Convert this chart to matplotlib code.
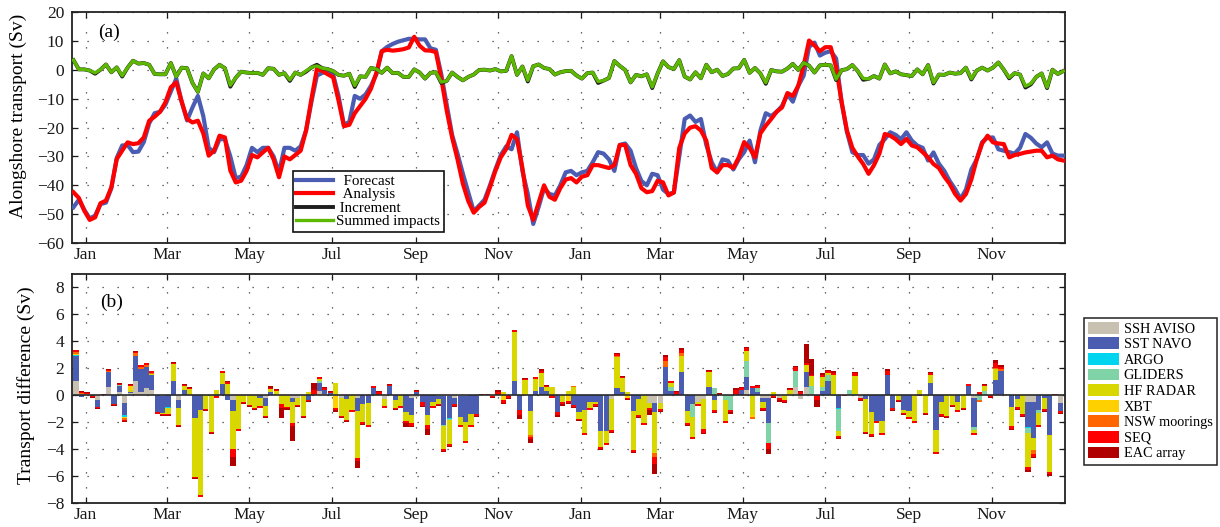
import numpy as np
import matplotlib
matplotlib.use("Agg")
import matplotlib.pyplot as plt
import matplotlib.dates as mdates
from matplotlib.patches import Patch
from datetime import datetime

plt.rcParams['font.family'] = ['Liberation Serif', 'DejaVu Serif']

# alongshore transport (Sv), one value per 4-day window starting 23 Dec 2011
analysis = [
    -42.4, -44.4, -48.8, -52.0, -51.1, -46.2, -45.3, -40.7, -30.9, -28.0,
    -25.1, -25.7, -25.4, -23.4, -17.6, -16.2, -14.5, -11.2, -6.0, -4.3,
    -11.0, -17.0, -18.2, -17.6, -22.0, -29.7, -28.0, -22.8, -23.4, -34.9,
    -39.0, -38.4, -35.0, -29.5, -30.3, -28.6, -27.0, -31.0, -37.2, -30.0,
    -31.0, -29.5, -28.0, -21.0, -10.0, 0.3, -0.3, -1.5, -2.5, -10.6,
    -19.5, -19.0, -15.0, -12.5, -10.0, -6.5, -1.0, 6.5, 7.0, 6.7,
    6.9, 7.2, 7.8, 11.5, 8.4, 6.8, 6.7, 6.2, -3.0, -14.0,
    -23.4, -31.0, -39.5, -45.5, -49.5, -47.5, -46.0, -40.7, -35.0, -30.3,
    -27.4, -22.5, -24.0, -34.0, -47.0, -52.0, -46.0, -40.0, -44.0, -45.0,
    -41.0, -38.0, -37.5, -39.0, -37.0, -36.5, -33.0, -33.0, -33.5, -34.0,
    -33.0, -26.0, -26.0, -33.0, -36.0, -41.0, -42.4, -42.0, -38.4, -39.0,
    -43.5, -42.5, -27.0, -22.0, -20.0, -19.5, -21.0, -24.5, -34.0, -35.5,
    -33.0, -33.0, -34.0, -30.3, -25.0, -27.0, -30.3, -22.0, -19.3, -17.0,
    -14.5, -13.0, -8.0, -9.0, -5.5, 1.5, 10.2, 8.5, 6.5, 7.9,
    7.9, 0.9, -11.0, -21.0, -27.0, -30.0, -32.6, -36.0, -33.0, -29.0,
    -22.2, -22.8, -24.0, -25.7, -23.9, -26.2, -26.8, -28.5, -30.3, -32.6,
    -34.0, -37.0, -39.5, -43.0, -45.3, -43.0, -38.0, -31.0, -25.5, -22.8,
    -25.1, -25.5, -25.7, -30.3, -29.5, -29.1, -28.6, -28.3, -28.0, -28.0,
    -30.3, -29.7, -31.0, -31.4,
]
forecast = [
    -47.6, -45.0, -48.5, -51.5, -50.5, -46.5, -46.0, -41.0, -30.5, -26.2,
    -26.0, -28.5, -28.3, -25.0, -18.5, -15.0, -14.5, -12.0, -7.5, -3.0,
    -11.0, -17.5, -13.0, -9.0, -16.0, -27.0, -28.5, -24.0, -24.0, -30.0,
    -37.5, -37.0, -33.0, -27.0, -28.5, -27.0, -27.0, -30.0, -35.5, -27.0,
    -27.0, -28.0, -26.5, -21.0, -11.0, -2.0, -1.0, -0.8, -1.5, -9.0,
    -19.0, -18.0, -9.0, -10.0, -8.5, -5.5, -1.5, 6.5, 8.0, 9.0,
    9.8, 10.3, 10.8, 10.8, 10.6, 10.6, 7.5, 7.0, -1.5, -12.0,
    -22.5, -29.0, -36.0, -42.5, -49.0, -47.0, -45.0, -40.0, -34.5, -29.5,
    -26.5, -27.5, -21.6, -35.0, -43.0, -53.4, -47.5, -41.0, -43.0, -43.5,
    -40.0, -35.5, -35.0, -36.5, -35.5, -35.0, -32.0, -28.5, -29.0, -31.0,
    -35.0, -26.0, -25.5, -28.0, -34.0, -38.5, -40.0, -36.0, -36.5, -41.5,
    -43.0, -42.5, -30.0, -17.0, -15.8, -18.0, -17.0, -26.0, -32.0, -35.5,
    -31.0, -31.5, -34.5, -31.0, -28.5, -24.5, -32.0, -21.0, -15.0, -16.0,
    -14.5, -12.5, -8.5, -11.0, -5.5, -2.0, 8.0, 9.5, 5.0, 6.0,
    6.5, 4.0, -11.0, -21.5, -28.5, -29.5, -29.5, -32.5, -31.0, -26.0,
    -24.0, -21.6, -22.5, -24.0, -21.6, -24.5, -26.2, -27.0, -31.4, -28.6,
    -32.5, -35.0, -38.5, -41.3, -44.7, -41.5, -34.5, -31.0, -25.0, -23.5,
    -23.4, -27.5, -28.0, -28.5, -29.0, -27.0, -22.2, -23.5, -25.5, -26.8,
    -25.1, -29.0, -29.7, -29.7,
]
increment = [
    3.4, 0.2, 0.2, -0.2, -1.3, 0.1, 1.9, -0.8, 0.9, -2.3,
    0.8, 3.2, 2.2, 2.4, 1.8, -1.4, -1.5, -1.5, 2.4, -2.3,
    0.8, 0.6, -4.5, -7.6, -1.2, -2.9, 0.2, 1.8, 0.6, -5.8,
    -2.7, -0.6, -0.9, -1.1, -1.0, -1.7, 0.6, 0.4, -1.7, -1.1,
    -3.8, -0.9, -1.7, -0.6, 0.9, 1.8, 0.6, 0.3, -0.4, -1.7,
    -2.0, -1.3, -5.9, -2.2, -2.4, 0.7, 0.3, -1.0, 0.8, -1.1,
    -1.0, -2.4, -2.4, 0.2, -0.9, -3.0, -1.0, -0.8, -4.5, -3.8,
    -0.9, -2.4, -3.6, -2.4, -1.6, 0.0, 0.1, -0.2, 0.3, -0.5,
    -0.3, 4.8, -1.7, 1.2, -4.0, 1.3, 1.9, 0.7, 0.3, -1.6,
    -0.8, -0.4, -0.3, -1.9, -3.0, -1.1, -0.9, -4.5, -3.7, -2.8,
    3.1, 1.4, 0.0, -4.3, -1.7, -2.2, -1.5, -6.3, -1.2, 3.0,
    1.0, 0.3, 3.4, -2.3, -3.3, -0.8, -2.9, 1.8, -0.8, 0.1,
    -2.1, -1.4, 0.5, 0.6, 3.5, -1.0, 0.7, -1.2, -4.8, 0.0,
    -0.5, -0.6, 0.5, 2.1, 0.0, 2.5, 1.5, -0.9, 1.6, 1.8,
    1.6, -3.5, -0.1, 0.3, 1.7, -0.4, -3.4, -3.1, -2.1, -3.0,
    1.9, -1.2, -0.5, -1.5, -1.8, -2.1, 0.2, -1.5, 1.7, -4.7,
    -1.6, -1.7, -0.9, -1.3, -1.1, 0.8, -3.3, -0.2, 0.8, -0.2,
    0.8, 2.6, 0.1, -2.9, -1.1, -1.6, -6.1, -5.0, -2.4, -1.2,
    -6.3, 0.1, -1.4, -0.4,
]
summed = [
    3.4, 0.2, 0.2, -0.2, -1.0, 0.1, 1.9, -0.8, 0.9, -2.0,
    0.8, 3.2, 2.2, 2.4, 1.8, -1.4, -1.5, -1.5, 2.4, -2.3,
    0.8, 0.6, -4.5, -7.6, -1.2, -2.9, 0.2, 1.8, 0.6, -5.3,
    -2.7, -0.6, -0.9, -1.1, -1.0, -1.7, 0.6, 0.4, -1.7, -1.1,
    -3.4, -0.9, -1.7, -0.3, 0.9, 1.4, 0.6, 0.3, -0.4, -1.7,
    -2.0, -1.3, -5.4, -2.2, -2.4, 0.7, 0.3, -1.0, 0.8, -1.1,
    -1.0, -2.4, -2.4, 0.2, -0.9, -3.0, -1.0, -0.8, -4.2, -3.8,
    -0.9, -2.4, -3.6, -2.4, -1.6, 0.0, 0.1, -0.2, 0.3, -0.5,
    -0.3, 4.8, -1.7, 1.2, -3.6, 1.3, 1.9, 0.7, 0.3, -1.6,
    -0.8, -0.4, -0.3, -1.9, -3.0, -1.1, -0.9, -4.0, -3.7, -2.8,
    3.1, 1.4, 0.0, -4.3, -1.7, -2.2, -1.5, -5.9, -1.2, 3.0,
    1.0, 0.3, 3.4, -2.3, -3.3, -0.8, -2.9, 1.8, -0.8, 0.1,
    -2.1, -1.4, 0.5, 0.6, 3.5, -1.0, 0.7, -1.2, -4.4, 0.0,
    -0.5, -0.6, 0.5, 2.1, 0.0, 2.5, 1.5, -0.9, 1.6, 1.8,
    1.6, -3.2, -0.1, 0.3, 1.7, -0.4, -2.9, -3.1, -2.1, -3.0,
    1.9, -1.2, -0.5, -1.5, -1.8, -2.1, 0.2, -1.5, 1.7, -4.4,
    -1.6, -1.7, -0.9, -1.3, -1.1, 0.8, -3.0, -0.2, 0.8, -0.2,
    0.8, 2.6, 0.1, -2.6, -1.1, -1.6, -5.6, -4.7, -2.4, -1.2,
    -6.0, 0.1, -1.4, -0.4,
]

# transport difference (Sv) attributed to each observation platform
ssh_aviso = [
    1.0, 0.1, 0.05, 0, -0.4, 0, 0.6, 0, 0.2, -0.6,
    0.15, 1.0, 0.25, 0.5, 0.4, 0, -0.1, 0, 0, -0.4,
    0, 0, 0, 0, 0, -0.1, 0, 0, 0, -0.4,
    0, -0.1, 0, -0.1, 0, -0.2, 0, 0, 0, -0.1,
    -0.2, -0.2, -0.1, 0, 0, 0.3, 0.1, 0, 0, -0.2,
    0, 0, -0.2, 0, 0, 0, 0, -0.3, 0, 0,
    0, 0, -0.2, -0.15, 0, 0, 0, -0.1, -0.1, -0.1,
    -0.2, -0.1, -0.1, 0, 0, 0, 0, -0.1, 0, 0,
    0, 0, 0, 0, 0, 0, 0, 0, 0, 0,
    0, 0, 0, 0, 0, 0, 0, 0, 0, -0.3,
    0, 0, 0, 0, 0, -0.1, -0.6, -0.6, -0.6, 0,
    0, 0, 0, 0, 0, -0.5, -0.3, 0, 0, 0,
    0, 0, 0, 0, 0.35, 0, 0, -0.2, -0.25, 0,
    -0.2, 0, 0, 0.6, -0.3, 0.6, 0.1, 0, 0, 0,
    0.1, 0, 0, 0, 0, -0.25, 0, 0, 0, 0,
    0, 0, 0, 0, 0, 0, 0, 0, 0, 0,
    0, 0, 0, 0, 0, 0, -0.25, 0, 0, 0,
    0, 0, 0.1, 0, 0, 0, -0.5, -0.5, 0, 0,
    0, 0, -0.6, 0,
]
sst_navo = [
    1.9, -0.15, 0, -0.05, -0.5, 0, 1.1, -0.65, 0.5, -0.9,
    0.05, 1.9, 1.7, 1.6, 1.1, -1.3, -1.25, -0.9, 1.0, -0.6,
    0.4, 0, -1.7, -1.1, 0, 0, -0.1, 0.8, -0.4, -0.8,
    0, 0, 0, 0, -0.2, -0.6, 0.2, 0, 0, 0,
    -0.3, 0, 0, -0.35, 0, 0.6, 0.25, 0.15, 0, 0,
    -0.3, 0, -1.0, -0.7, -0.6, 0.5, 0, 0, 0.65, -0.4,
    0, -1.3, -1.3, 0.2, -0.55, -1.5, -0.5, -0.2, -2.1, -1.6,
    -0.5, -1.5, -1.9, -1.4, -1.4, 0, 0, 0, 0, 0,
    0, 1.0, -1.1, 0, -1.2, 0.3, 0.6, 0.3, 0, -1.3,
    0, 0, -0.75, -1.3, -1.1, -0.5, -0.5, -2.7, -2.7, 0,
    0.5, 0.2, 0, -1.2, -0.3, 0, 0, -0.7, 0, 2.1,
    0.3, 0, 1.7, -1.2, -0.7, 0, 0, 0.6, -0.4, 0,
    0, 0, 0, 0.4, 1.0, 0.5, 0.25, -0.3, -1.85, 0,
    0, 0, 0, 0, 0, 1.1, 0, 0, 0.3, 1.0,
    0, -1.0, 0, 0, 0, 0, -0.3, -1.3, -1.9, -1.9,
    1.5, -1.0, 0, -1.1, -1.2, 0, 0, 0, 0.9, -2.6,
    -0.5, 0, 0, -0.5, 0, 0.7, -2.1, 0, 0, 0,
    1.1, 1.8, 0, -0.9, -0.3, 0, -1.9, -2.7, -1.1, -0.25,
    -3.0, 0, -0.6, 0,
]
argo = [
    0.1, 0, 0, 0, 0, 0, 0, 0, 0, -0.1,
    0, 0, 0, 0, 0, 0, 0, -0.05, 0, 0,
    0, 0, 0, 0, 0, 0, 0, 0, 0, 0,
    0, 0, 0, 0, 0, 0, 0, 0, 0, 0,
    0, 0, 0, 0, 0, 0, 0, 0, 0, 0,
    0, 0, 0, 0, 0, 0, 0, 0, 0, 0,
    0, 0, 0, 0, 0, 0, 0, 0, 0, -0.05,
    0, 0, 0, 0, 0, 0, 0, 0, 0, 0,
    0, 0, 0, 0, 0, 0, 0, 0, 0, 0,
    0, 0, 0, 0, 0, 0, 0, 0, 0, 0,
    0, 0, 0, 0, 0, 0, 0, 0, 0, 0,
    0, 0, 0, 0, 0, 0, 0, 0, 0, 0,
    0, 0, 0, 0, 0, 0, 0, 0, 0, 0,
    0, 0, 0, 0, 0, 0, 0, 0, 0, 0,
    0, -0.05, 0, 0, 0, 0, 0, 0, 0, 0,
    0, 0, 0, 0, 0, 0, 0, 0, 0, 0,
    0, 0, 0, 0, 0, 0, 0, 0, 0, 0,
    0, 0, 0, 0, 0, 0, -0.05, 0, 0, 0,
    0, 0, 0, 0,
]
gliders = [
    0, 0, 0, 0, 0, 0, 0, 0, 0.05, 0,
    0, 0, 0, 0, 0, 0, 0, -0.05, 0, 0,
    0, 0, 0, 0, 0, 0, 0, 0, 0, 0,
    0, 0, 0, 0, 0, 0, 0, 0, 0, 0,
    0, 0, 0, 0, 0, 0.1, 0, 0, -0.1, 0,
    0, 0, 0, 0, 0, 0, 0, 0, 0, 0,
    0, 0, 0, 0, 0, 0, 0, 0, -0.1, -0.1,
    0, 0, 0, 0, 0, 0, 0, 0, 0, 0,
    0, 0, 0, 0, 0, 0, 0, 0, 0, 0,
    0, 0, 0, 0, 0, 0, 0, 0, 0, 0,
    0, 0, 0, 0, 0, 0, 0, 0, 0, 0,
    0.3, 0, 0, 0, -0.9, 0, 0, 0, 0.5, 0,
    -0.4, -1.1, 0, 0, 1.2, 0, 0.3, 0, -1.5, 0,
    0, 0, 0, 1.2, 0, 0, 0.6, 0, 0.3, 0.5,
    -0.1, -1.6, 0, 0.35, 0.1, 0, 0, 0, 0, 0,
    0, 0, 0, 0, 0, 0, 0.05, 0, 0, 0,
    0, 0, 0, 0, 0, 0, -0.25, -0.35, 0.3, 0,
    0, 0, 0, 0, 0, 0, -0.4, 0, -0.25, 0,
    0, 0, 0, 0,
]
hf_radar = [
    0, 0, 0, 0, 0, 0, 0, 0, 0, 0,
    0.2, 0, 0, 0, 0.05, 0, -0.05, -0.4, 1.3, -1.2,
    0.25, 0.45, -4.4, -6.35, -1.05, -2.65, 0.4, 0.85, 0.85, -2.8,
    -2.55, -0.4, -0.75, -0.85, -0.65, -0.75, 0.25, 0.3, -0.7, -0.8,
    -1.6, -0.55, -1.45, 0.2, 0, 0.15, 0, 0, 0.9, -1.35,
    -1.55, -1.15, -3.5, -1.3, -1.6, 0, 0, -0.5, 0, -0.55,
    -0.85, -0.6, -0.6, 0, 0, -0.7, -0.35, -0.35, -1.7, -1.8,
    0, -0.6, -1.45, -0.85, 0, 0, 0, 0, 0, 0.2,
    0, 3.7, 0, 1.1, -1.8, 0.9, 1.0, 0.3, 0.6, 0,
    -0.55, 0.3, 0.6, -0.45, -1.75, -0.5, -0.2, -1.15, -0.85, -2.3,
    2.3, 1.05, 0.25, -2.85, -1.2, -1.95, -0.4, -3.0, -0.45, 0,
    0.3, 0, 1.2, -0.85, -1.5, -0.2, -2.25, 1.1, -0.75, 0,
    -1.5, 0, 0, 0, 0.7, -1.5, 0, -0.5, 0, 0.2,
    0, -0.35, 0.35, 0, 0, 0.5, 0.7, 0, 0.7, 0.1,
    1.4, -0.4, 0, 0, 1.3, 0, -2.45, -1.6, 0, -0.9,
    0, 0, -0.35, -0.25, -0.45, -1.95, 0.3, -1.35, 0.6, -1.6,
    -0.95, -1.55, -0.75, -0.65, -0.95, 0, -0.25, 0, 0.35, 0,
    0.8, 0, 0, -1.4, -0.6, -1.45, -2.5, -0.9, -0.9, -0.8,
    -2.75, 0, 0, 0,
]
xbt = [
    0.05, 0, 0, 0, 0, 0, 0, 0, 0, -0.1,
    0.25, 0, 0, 0, 0, 0, 0, 0, 0, 0,
    0, 0, 0, 0, 0, 0, 0, 0, 0, 0,
    0, 0, 0, 0, 0, 0, 0, 0, 0, 0,
    0, 0, 0, 0, 0, 0, 0, 0, -0.9, 0,
    0, 0, 0, 0, 0, 0, 0, 0, 0, 0,
    0, 0, 0, 0, 0, 0, 0, 0, 0, 0,
    0, 0, 0, 0, 0, 0, 0, 0, 0, -0.35,
    0, 0, 0, 0, 0, 0, 0, 0, 0, 0,
    0, -0.45, 0, 0, 0, 0, 0, 0, 0, 0,
    0, 0, -0.2, 0, 0, 0, 0, 0, 0, 0,
    0, 0, 0, 0, 0, 0, 0, 0, 0, 0,
    0, 0, 0, 0, 0, -0.1, 0, 0, 0, 0,
    0, 0, 0, 0, 0, 0, 0, 0, 0, 0,
    0, 0, 0, 0, 0, 0, 0, 0, 0, 0,
    0, 0, 0, 0, 0, 0, 0, 0, 0, 0,
    0, 0, 0, 0, 0, 0, 0, 0, 0, 0,
    0, 0, 0, 0, 0, 0, 0, 0, 0, 0,
    0, 0, 0, 0,
]
nsw_moorings = [
    0.15, 0.05, 0, 0, 0, 0, 0.05, 0, 0, -0.15,
    0, 0.2, 0.15, 0.15, 0.1, 0, 0, 0, 0, 0,
    0, 0, 0, 0, 0, 0, 0, 0, 0, 0,
    0, 0, 0, 0, 0, 0, 0, 0, 0, 0,
    0, 0, 0, 0, 0, 0, 0, 0, 0, 0,
    0, 0, 0, 0, 0, 0, 0, 0, 0, 0,
    0, 0, 0, 0, 0, 0, 0, 0, 0, 0,
    0, 0, 0, 0, 0, 0, 0, 0, 0, 0,
    0, 0, 0, 0, -0.1, 0, 0, 0, 0, 0,
    0, 0, 0.1, 0, 0, 0, 0, 0, 0, 0,
    0.1, 0, 0, 0, 0, 0, 0, -0.3, 0, 0.4,
    0, 0, 0.2, 0, 0, 0, 0, 0, 0, 0,
    0, 0, 0, 0, 0, -0.15, 0, 0, 0, 0,
    0, 0, 0, 0, 0, 0, 0, 0, 0, 0,
    0, 0, 0, 0, 0, 0, 0, 0, 0, 0,
    0, 0, 0, 0, 0, 0, 0, 0, 0, 0,
    0, 0, 0, 0, 0, 0, 0, -0.15, 0, 0,
    0.1, 0.1, 0, 0, 0, 0, 0, -0.3, 0, 0,
    0, 0, 0, 0,
]
seq = [
    0.1, 0.1, 0.1, -0.1, -0.1, 0.05, 0.1, -0.1, 0.1, -0.1,
    0.1, 0.1, 0.1, 0.1, 0.1, -0.1, -0.1, -0.1, 0.1, -0.1,
    0.1, 0.1, -0.1, -0.1, -0.1, -0.1, -0.1, 0.1, 0.1, -0.6,
    -0.1, -0.1, -0.1, -0.1, -0.1, -0.1, 0.1, 0.1, -0.3, -0.1,
    -0.2, -0.1, -0.1, -0.1, 0.4, 0.15, 0.15, 0.1, -0.15, -0.1,
    -0.1, -0.1, -0.2, -0.15, -0.15, 0.15, 0.2, -0.15, 0.1, -0.1,
    -0.1, -0.2, -0.2, 0.1, -0.25, -0.3, -0.1, -0.1, -0.15, -0.15,
    -0.15, -0.15, -0.1, -0.1, -0.15, 0.03, 0.07, -0.07, 0.25, -0.25,
    -0.2, 0.1, -0.4, 0.1, -0.2, 0.1, 0.2, 0.1, -0.2, -0.2,
    -0.15, -0.15, -0.15, -0.1, -0.1, -0.1, -0.15, -0.15, -0.15, -0.15,
    0.15, 0.1, -0.1, -0.2, -0.15, -0.15, -0.1, -0.5, -0.15, 0.3,
    0.1, 0.2, 0.2, -0.2, -0.15, -0.1, -0.25, 0.1, -0.15, 0.1,
    -0.15, -0.2, 0.35, 0.15, 0.2, 0.15, 0.15, -0.15, -0.4, -0.15,
    -0.2, -0.15, 0.1, 0.25, 0.2, 0.2, 0.1, -0.4, 0.2, 0.15,
    0.15, -0.15, -0.07, 0, 0.2, -0.15, -0.1, -0.15, -0.15, -0.15,
    0.3, -0.15, -0.1, -0.1, -0.1, -0.1, -0.1, -0.1, 0.15, -0.15,
    -0.1, -0.1, -0.1, -0.1, -0.1, 0.1, -0.1, 0.2, 0.1, -0.15,
    0.4, 0.2, 0, -0.2, -0.15, -0.1, -0.25, -0.2, -0.1, -0.15,
    -0.15, 0.04, -0.15, 0,
]
eac_array = [
    0.05, 0.05, 0.05, -0.05, -0.05, 0.03, 0.05, -0.05, 0.05, -0.05,
    0.05, 0.05, 0.05, 0.05, 0.05, -0.05, -0.05, -0.05, 0.05, -0.05,
    0.05, 0.05, -0.05, -0.05, -0.05, -0.05, -0.05, 0.05, 0.05, -0.7,
    -0.05, -0.05, -0.05, -0.05, -0.05, -0.05, 0.1, 0.05, -0.7, -0.1,
    -1.1, -0.05, -0.05, -0.05, 0.5, 0.05, 0.1, 0.05, -0.1, -0.05,
    -0.05, -0.05, -0.5, -0.05, -0.05, 0.05, 0.1, -0.05, 0.05, -0.05,
    -0.05, -0.3, -0.1, 0.05, -0.1, -0.5, -0.05, -0.05, -0.05, -0.05,
    -0.05, -0.05, -0.05, -0.05, -0.05, 0.02, 0.03, -0.03, 0.1, -0.1,
    -0.1, 0.05, -0.25, 0.05, -0.3, 0.05, 0.15, 0.05, -0.05, -0.1,
    -0.1, -0.1, -0.1, -0.05, -0.05, -0.05, -0.05, -0.05, -0.05, -0.05,
    0.05, 0.05, -0.05, -0.05, -0.05, -0.05, -0.4, -0.8, -0.05, 0.2,
    0.05, 0.1, 0.15, -0.05, -0.05, -0.05, -0.1, 0.05, -0.05, 0.05,
    -0.05, -0.1, 0.15, 0.05, 0.1, 0.05, 0.05, -0.05, -0.4, -0.05,
    -0.1, -0.1, 0.05, 0.1, 0.1, 1.4, 1.2, -0.5, 0.1, 0.1,
    0.1, -0.05, -0.03, 0, 0.1, -0.05, -0.05, -0.05, -0.05, -0.05,
    0.1, -0.05, -0.05, -0.05, -0.05, -0.05, 0, -0.05, 0.05, -0.05,
    -0.05, -0.05, -0.05, -0.05, -0.05, 0.05, -0.05, 0.05, 0.05, -0.05,
    0.2, 0.1, 0, -0.1, -0.05, -0.05, -0.1, -0.1, -0.05, -0.05,
    -0.1, 0.03, -0.05, 0,
]

platform_names = ['SSH AVISO', 'SST NAVO', 'ARGO', 'GLIDERS', 'HF RADAR',
                  'XBT', 'NSW moorings', 'SEQ', 'EAC array']
platform_colors = ['#c8c1b2', '#4b5db0', '#00d4ee', '#7fd3a6', '#d8d800',
                   '#ffd000', '#ff6600', '#ff0000', '#b00000']
platform_values = [ssh_aviso, sst_navo, argo, gliders, hf_radar,
                   xbt, nsw_moorings, seq, eac_array]

# legend entries are centred in their box, so the shorter names get a lead-in
line_names = ['  Forecast', '  Analysis', ' Increment', 'Summed impacts']
line_colors = ['#4a5db3', '#ff0000', '#1e1e1e', '#5cb800']
line_widths = [3.0, 3.0, 2.8, 2.4]

n = len(analysis)
t = mdates.date2num(datetime(2011, 12, 23)) + 4 * np.arange(n)
xlim = (mdates.date2num(datetime(2011, 12, 22, 6)),
        mdates.date2num(datetime(2013, 12, 25, 14)))

fig = plt.figure(figsize=(12.2, 5.27), dpi=100)
ax1 = fig.add_axes([0.0594, 0.5389, 0.8139, 0.4378])
ax2 = fig.add_axes([0.0594, 0.0461, 0.8139, 0.4345])

grid_style = dict(linestyle=(0, (1, 11)), linewidth=0.9, color='#3a3a3a')

for ax in (ax1, ax2):
    ax.set_xlim(*xlim)
    ax.xaxis.set_major_locator(mdates.MonthLocator(bymonth=[1, 3, 5, 7, 9, 11]))
    ax.xaxis.set_major_formatter(mdates.DateFormatter('%b'))
    ax.tick_params(direction='in', length=4.5, width=0.9, top=True, right=True,
                   labelsize=12.5, colors='#1a1a1a')
    ax.tick_params(axis='x', pad=3)
    ax.tick_params(axis='y', pad=6)
    ax.grid(True, **grid_style)
    ax.set_axisbelow(True)
    for s in ax.spines.values():
        s.set_linewidth(1.3)
        s.set_color('#222222')

# (a) transport time series
series = [forecast, analysis, increment, summed]
for vals, name, c, lw in zip(series, line_names, line_colors, line_widths):
    ax1.plot(t, vals, color=c, lw=lw, label=name, solid_joinstyle='round', zorder=3)
ax1.set_ylim(-60, 20)
ax1.set_yticks(np.arange(-60, 21, 10))
ax1.set_ylabel('Alongshore transport (Sv)', fontsize=14)
ax1.yaxis.set_label_coords(-0.046, 0.55)
ax1.text(0.037, 0.912, '(a)', transform=ax1.transAxes, fontsize=14,
         ha='center', va='center')
leg1 = ax1.legend(loc='upper left', bbox_to_anchor=(0.2218, 0.3134),
                  borderaxespad=0, fontsize=10.8, handlelength=2.45,
                  handletextpad=0.2, labelspacing=0.0, borderpad=0.25,
                  fancybox=False, framealpha=1, edgecolor='#111111')
leg1.get_frame().set_linewidth(1.2)

# (b) stacked contributions, positive and negative parts stacked separately
pos_base = np.zeros(n)
neg_base = np.zeros(n)
for vals, c in zip(platform_values, platform_colors):
    v = np.asarray(vals, dtype=float)
    p = np.clip(v, 0, None)
    m = np.clip(v, None, 0)
    ax2.bar(t, p, width=3.85, bottom=pos_base, align='edge', color=c, lw=0, zorder=2)
    ax2.bar(t, m, width=3.85, bottom=neg_base, align='edge', color=c, lw=0, zorder=2)
    pos_base += p
    neg_base += m
ax2.axhline(0, color='#2a2a2a', lw=1.2, zorder=3)
ax2.set_ylim(-8, 9)
ax2.set_yticks(np.arange(-8, 9, 2))
ax2.set_ylabel('Transport difference (Sv)', fontsize=14)
ax2.yaxis.set_label_coords(-0.038, 0.514)
ax2.text(0.039, 0.875, '(b)', transform=ax2.transAxes, fontsize=14,
         ha='center', va='center')

handles = [Patch(facecolor=c, edgecolor='none') for c in platform_colors]
leg2 = ax2.legend(handles, platform_names, loc='upper left',
                  bbox_to_anchor=(1083.5 / 1220, 1 - 317.5 / 527),
                  bbox_transform=fig.transFigure, borderaxespad=0,
                  fontsize=10.3, handlelength=2.2, handleheight=0.9,
                  handletextpad=0.3, labelspacing=0.12, borderpad=0.3,
                  fancybox=False, framealpha=1, edgecolor='#222222')
leg2.get_frame().set_linewidth(1.1)

fig.savefig('out.png', dpi=100)
